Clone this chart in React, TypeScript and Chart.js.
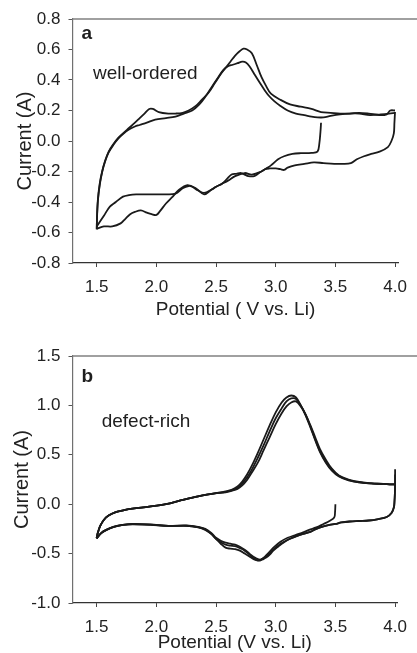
import React, { useEffect, useRef } from 'react';
import { Chart, registerables } from 'chart.js';

Chart.register(...registerables);

const FONT = "'Liberation Sans', Arial, Helvetica, sans-serif";

// ---------- Panel a (well-ordered) ----------
const aXTicks = [1.5, 2.0, 2.5, 3.0, 3.5, 4.0];
const aYTicks = [-0.8, -0.6, -0.4, -0.2, 0.0, 0.2, 0.4, 0.6, 0.8];

const aCath1V = [3.38, 3.375, 3.365, 3.35, 3.3, 3.21, 3.14, 3.07, 3.02, 2.96, 2.92, 2.88, 2.8, 2.74, 2.66, 2.6, 2.55, 2.5, 2.46, 2.4, 2.33, 2.26, 2.19, 2.13, 2.08, 2.03, 2.0, 1.96, 1.92, 1.87, 1.82, 1.78, 1.74, 1.7, 1.63, 1.56, 1.5];
const aCath1I = [0.12, 0.06, -0.02, -0.07, -0.078, -0.08, -0.085, -0.1, -0.12, -0.16, -0.18, -0.2, -0.22, -0.21, -0.23, -0.26, -0.28, -0.3, -0.32, -0.35, -0.31, -0.29, -0.32, -0.37, -0.41, -0.46, -0.485, -0.48, -0.47, -0.455, -0.465, -0.48, -0.51, -0.54, -0.56, -0.56, -0.575];

const aAnod1V = [1.5, 1.503, 1.51, 1.525, 1.545, 1.57, 1.6, 1.64, 1.68, 1.72, 1.77, 1.82, 1.86, 1.9, 1.94, 1.97, 2.02, 2.1, 2.16, 2.22, 2.27, 2.33, 2.38, 2.44, 2.49, 2.54, 2.58, 2.62, 2.66, 2.7, 2.73, 2.76, 2.8, 2.84, 2.88, 2.92, 2.96, 3.04, 3.12, 3.21, 3.3, 3.38, 3.46, 3.54, 3.62, 3.7, 3.78, 3.87, 3.93, 3.96, 4.0];
const aAnod1I = [-0.575, -0.48, -0.38, -0.28, -0.2, -0.13, -0.07, -0.02, 0.02, 0.05, 0.085, 0.12, 0.15, 0.18, 0.21, 0.21, 0.19, 0.18, 0.18, 0.185, 0.2, 0.23, 0.27, 0.32, 0.38, 0.44, 0.48, 0.52, 0.56, 0.59, 0.605, 0.6, 0.575, 0.5, 0.42, 0.36, 0.31, 0.27, 0.24, 0.225, 0.21, 0.19, 0.185, 0.18, 0.18, 0.185, 0.18, 0.17, 0.175, 0.2, 0.2];

const aCath2V = [4.0, 3.995, 3.99, 3.97, 3.94, 3.87, 3.8, 3.74, 3.68, 3.63, 3.56, 3.49, 3.4, 3.32, 3.24, 3.16, 3.1, 3.07, 3.04, 3.0, 2.95, 2.91, 2.86, 2.82, 2.77, 2.74, 2.71, 2.67, 2.63, 2.59, 2.55, 2.5, 2.46, 2.4, 2.35, 2.3, 2.27, 2.22, 2.16, 2.08, 1.99, 1.91, 1.83, 1.77, 1.72, 1.66, 1.61, 1.56, 1.5];
const aCath2I = [0.19, 0.12, 0.05, 0.0, -0.04, -0.07, -0.085, -0.1, -0.12, -0.145, -0.15, -0.15, -0.145, -0.14, -0.15, -0.16, -0.175, -0.19, -0.185, -0.18, -0.18, -0.185, -0.21, -0.23, -0.23, -0.22, -0.21, -0.215, -0.22, -0.25, -0.28, -0.3, -0.32, -0.34, -0.325, -0.3, -0.295, -0.31, -0.345, -0.35, -0.35, -0.35, -0.35, -0.355, -0.365, -0.4, -0.43, -0.49, -0.56];

const aAnod2V = [1.5, 1.503, 1.51, 1.525, 1.545, 1.57, 1.6, 1.64, 1.68, 1.72, 1.77, 1.82, 1.86, 1.92, 1.99, 2.08, 2.16, 2.23, 2.3, 2.36, 2.41, 2.46, 2.52, 2.56, 2.6, 2.64, 2.68, 2.72, 2.75, 2.78, 2.82, 2.86, 2.91, 2.95, 2.99, 3.04, 3.1, 3.17, 3.24, 3.3, 3.35, 3.4, 3.46, 3.54, 3.62, 3.7, 3.79, 3.88, 3.95, 4.0];
const aAnod2I = [-0.58, -0.49, -0.39, -0.29, -0.205, -0.135, -0.075, -0.025, 0.015, 0.045, 0.075, 0.095, 0.105, 0.12, 0.14, 0.15, 0.16, 0.18, 0.2, 0.24, 0.29, 0.35, 0.42, 0.465, 0.49, 0.5, 0.51, 0.52, 0.515, 0.49, 0.44, 0.39, 0.33, 0.29, 0.26, 0.23, 0.2, 0.18, 0.17, 0.16, 0.155, 0.155, 0.165, 0.175, 0.18, 0.18, 0.17, 0.175, 0.18, 0.185];

// ---------- Panel b (defect-rich) ----------
const bXTicks = [1.5, 2.0, 2.5, 3.0, 3.5, 4.0];
const bYTicks = [-1.0, -0.5, 0.0, 0.5, 1.0, 1.5];

const bCath1V = [3.5, 3.497, 3.49, 3.45, 3.4, 3.34, 3.28, 3.23, 3.17, 3.1, 3.04, 2.99, 2.95, 2.91, 2.88, 2.85, 2.82, 2.78, 2.74, 2.7, 2.66, 2.62, 2.58, 2.54, 2.5, 2.46, 2.41, 2.35, 2.25, 2.1, 1.95, 1.8, 1.72, 1.64, 1.58, 1.54, 1.5];
const bCath1I = [0.0, -0.08, -0.135, -0.17, -0.2, -0.235, -0.26, -0.285, -0.31, -0.34, -0.38, -0.43, -0.48, -0.53, -0.56, -0.57, -0.56, -0.53, -0.5, -0.47, -0.455, -0.45, -0.44, -0.4, -0.35, -0.3, -0.26, -0.235, -0.22, -0.22, -0.21, -0.205, -0.21, -0.23, -0.26, -0.29, -0.345];

const bAnodV = [1.5, 1.51, 1.53, 1.56, 1.6, 1.66, 1.73, 1.8, 1.94, 2.08, 2.21, 2.35, 2.49, 2.58, 2.63, 2.68, 2.72, 2.76, 2.8, 2.85, 2.9, 2.95, 3.0, 3.05, 3.09, 3.13, 3.17, 3.21, 3.25, 3.29, 3.33, 3.37, 3.42, 3.47, 3.53, 3.61, 3.7, 3.8, 3.9, 3.97, 4.0];
const bAnod1I = [-0.345, -0.29, -0.22, -0.16, -0.115, -0.08, -0.06, -0.045, -0.025, 0.0, 0.04, 0.08, 0.11, 0.13, 0.145, 0.18, 0.23, 0.3, 0.39, 0.52, 0.66, 0.8, 0.93, 1.03, 1.08, 1.1, 1.08, 1.0, 0.9, 0.78, 0.65, 0.53, 0.42, 0.34, 0.28, 0.24, 0.22, 0.21, 0.205, 0.2, 0.2];
const bAnod2I = [-0.345, -0.29, -0.22, -0.16, -0.115, -0.08, -0.06, -0.045, -0.025, 0.0, 0.04, 0.08, 0.11, 0.125, 0.14, 0.165, 0.21, 0.27, 0.35, 0.47, 0.6, 0.74, 0.87, 0.97, 1.04, 1.07, 1.065, 1.0, 0.91, 0.79, 0.66, 0.54, 0.43, 0.35, 0.285, 0.245, 0.22, 0.21, 0.205, 0.2, 0.2];
const bAnod3I = [-0.345, -0.29, -0.22, -0.16, -0.115, -0.08, -0.06, -0.045, -0.025, 0.0, 0.04, 0.08, 0.11, 0.12, 0.135, 0.155, 0.19, 0.245, 0.32, 0.42, 0.55, 0.68, 0.81, 0.92, 0.99, 1.03, 1.04, 0.99, 0.91, 0.8, 0.68, 0.56, 0.45, 0.36, 0.29, 0.25, 0.225, 0.21, 0.205, 0.2, 0.2];

const bCathV = [4.0, 4.0, 3.998, 3.995, 3.99, 3.97, 3.93, 3.86, 3.78, 3.7, 3.62, 3.55, 3.5, 3.45, 3.4, 3.34, 3.29, 3.23, 3.18, 3.12, 3.07, 3.02, 2.98, 2.95, 2.92, 2.89, 2.87, 2.84, 2.81, 2.78, 2.74, 2.7, 2.66, 2.62, 2.58, 2.54, 2.5, 2.46, 2.41, 2.35, 2.25, 2.1, 1.95, 1.8, 1.72, 1.64, 1.58, 1.54, 1.5];
const bCath2I = [0.355, 0.2, 0.1, 0.03, -0.03, -0.09, -0.13, -0.15, -0.165, -0.17, -0.175, -0.185, -0.2, -0.21, -0.225, -0.25, -0.28, -0.3, -0.32, -0.35, -0.38, -0.42, -0.46, -0.5, -0.53, -0.55, -0.56, -0.55, -0.53, -0.5, -0.46, -0.43, -0.41, -0.4, -0.39, -0.37, -0.34, -0.29, -0.25, -0.23, -0.215, -0.22, -0.205, -0.2, -0.21, -0.23, -0.26, -0.29, -0.345];
const bCath3I = [0.3, 0.2, 0.1, 0.03, -0.03, -0.09, -0.13, -0.15, -0.165, -0.17, -0.175, -0.185, -0.2, -0.21, -0.225, -0.25, -0.28, -0.3, -0.32, -0.35, -0.385, -0.43, -0.47, -0.51, -0.54, -0.56, -0.57, -0.565, -0.545, -0.51, -0.47, -0.445, -0.425, -0.42, -0.41, -0.385, -0.35, -0.3, -0.255, -0.232, -0.218, -0.22, -0.207, -0.202, -0.21, -0.232, -0.262, -0.292, -0.345];

type Branch = [number[], number[]];

const aBranches: Branch[] = [
  [aCath1V, aCath1I],
  [aAnod1V, aAnod1I],
  [aCath2V, aCath2I],
  [aAnod2V, aAnod2I],
];

const bBranches: Branch[] = [
  [bCath1V, bCath1I],
  [bAnodV, bAnod1I],
  [bCathV, bCath2I],
  [bAnodV, bAnod2I],
  [bCathV, bCath3I],
  [bAnodV, bAnod3I],
];

const CANVAS_W = 417;
const CANVAS_H = 330;

interface PanelProps {
  top: number;
  branches: Branch[];
  xTicks: number[];
  yTicks: number[];
  xMin: number;
  xMax: number;
  areaTop: number;
  areaBottom: number;
  xTitle: string;
  xTitlePad: number;
  yTitlePad: number;
  letter: string;
  letterPos: [number, number];
  note: string;
  notePos: [number, number];
}

function Panel(p: PanelProps) {
  const ref = useRef<HTMLCanvasElement>(null);
  useEffect(() => {
    const canvas = ref.current;
    if (!canvas) return;
    const framePlugin = {
      id: 'frameTop',
      afterDraw(chart: any) {
        const { ctx, chartArea } = chart;
        ctx.save();
        ctx.strokeStyle = '#808080';
        ctx.lineWidth = 1.5;
        ctx.beginPath();
        ctx.moveTo(chartArea.left, chartArea.top);
        ctx.lineTo(chart.width, chartArea.top);
        ctx.stroke();
        ctx.fillStyle = '#1e1e1e';
        ctx.textBaseline = 'alphabetic';
        ctx.textAlign = 'left';
        ctx.font = `bold 19px ${FONT}`;
        ctx.fillText(p.letter, p.letterPos[0], p.letterPos[1]);
        ctx.font = `19px ${FONT}`;
        ctx.fillText(p.note, p.notePos[0], p.notePos[1]);
        ctx.restore();
      },
    };
    const chart = new Chart(canvas, {
      type: 'line',
      data: {
        datasets: p.branches.map(([v, i]) => ({
          data: v.map((x, k) => ({ x, y: i[k] })),
          borderColor: '#1a1a1a',
          borderWidth: 1.8,
          pointRadius: 0,
          tension: 0.35,
          fill: false,
          clip: 6,
        })),
      },
      options: {
        animation: false,
        responsive: false,
        maintainAspectRatio: false,
        layout: { padding: { top: p.areaTop, left: 0, right: 15, bottom: 0 } },
        plugins: { legend: { display: false }, tooltip: { enabled: false } },
        scales: {
          x: {
            type: 'linear',
            min: p.xMin,
            max: p.xMax,
            afterBuildTicks: (axis: any) => {
              axis.ticks = p.xTicks.map((value) => ({ value }));
            },
            afterFit: (s: any) => {
              s.height = CANVAS_H - p.areaBottom;
            },
            ticks: {
              font: { family: FONT, size: 17 },
              color: '#222',
              padding: 10,
              maxRotation: 0,
              autoSkip: false,
              callback: (v: any) => Number(v).toFixed(1),
            },
            grid: { drawOnChartArea: false, drawTicks: true, tickLength: 4, color: '#444' },
            border: { display: true, color: '#333', width: 1.2 },
            title: {
              display: true,
              text: p.xTitle,
              font: { family: FONT, size: 19 },
              color: '#222',
              padding: { top: 0, bottom: p.xTitlePad },
            },
          },
          y: {
            type: 'linear',
            min: p.yTicks[0],
            max: p.yTicks[p.yTicks.length - 1],
            afterBuildTicks: (axis: any) => {
              axis.ticks = p.yTicks.map((value) => ({ value }));
            },
            afterFit: (s: any) => {
              s.width = 72.5;
            },
            ticks: {
              font: { family: FONT, size: 17 },
              color: '#222',
              padding: 8,
              autoSkip: false,
              callback: (v: any) => Number(v).toFixed(1),
            },
            grid: { drawOnChartArea: false, drawTicks: true, tickLength: 4, color: '#555' },
            border: { display: true, color: '#707070', width: 1.2 },
            title: {
              display: true,
              text: 'Current (A)',
              font: { family: FONT, size: 20 },
              color: '#222',
              padding: { top: p.yTitlePad, bottom: 0 },
            },
          },
        },
      },
      plugins: [framePlugin],
    });
    return () => chart.destroy();
  }, []);
  return (
    <canvas
      ref={ref}
      width={CANVAS_W}
      height={CANVAS_H}
      style={{ position: 'absolute', left: 0, top: p.top, width: CANVAS_W, height: CANVAS_H }}
    />
  );
}

export default function App() {
  return (
    <div
      style={{
        position: 'fixed',
        left: 0,
        top: 0,
        width: 417,
        height: 653,
        overflow: 'hidden',
        background: '#fff',
      }}
    >
      <Panel
        top={0}
        branches={aBranches}
        xTicks={aXTicks}
        yTicks={aYTicks}
        xMin={1.2968}
        xMax={4.029}
        areaTop={19}
        areaBottom={263}
        xTitle="Potential ( V vs. Li)"
        xTitlePad={8.6}
        yTitlePad={13}
        letter="a"
        letterPos={[81.5, 38.5]}
        note="well-ordered"
        notePos={[93, 79]}
      />
      <Panel
        top={330}
        branches={bBranches}
        xTicks={bXTicks}
        yTicks={bYTicks}
        xMin={1.2979}
        xMax={4.0166}
        areaTop={26}
        areaBottom={273}
        xTitle="Potential (V vs. Li)"
        xTitlePad={5.6}
        yTitlePad={10}
        letter="b"
        letterPos={[81.5, 51.7]}
        note="defect-rich"
        notePos={[101.7, 96.7]}
      />
    </div>
  );
}
